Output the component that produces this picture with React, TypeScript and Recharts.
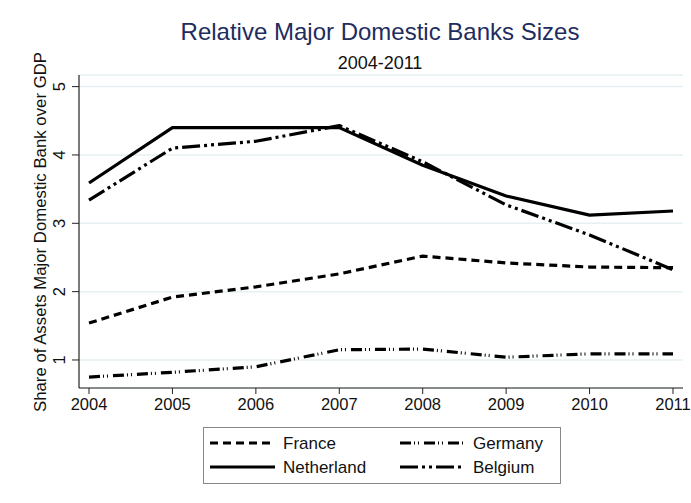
import React from "react";
import { LineChart, Line, XAxis, YAxis, CartesianGrid, Legend } from "recharts";

const years = [2004, 2005, 2006, 2007, 2008, 2009, 2010, 2011];
const france = [1.54, 1.92, 2.07, 2.26, 2.52, 2.42, 2.36, 2.35];
const germany = [0.75, 0.82, 0.9, 1.15, 1.16, 1.04, 1.09, 1.09];
const netherland = [3.59, 4.4, 4.4, 4.4, 3.85, 3.4, 3.12, 3.18];
const belgium = [3.34, 4.1, 4.2, 4.43, 3.9, 3.27, 2.83, 2.32];
const yTicks = [1, 2, 3, 4, 5];

const series = [
  { key: "france", name: "France", values: france, dash: "8 5" },
  { key: "germany", name: "Germany", values: germany, dash: "11 3 1 3 1 5" },
  { key: "netherland", name: "Netherland", values: netherland, dash: undefined },
  { key: "belgium", name: "Belgium", values: belgium, dash: "18 4 3 4 3 4" },
];

const data = years.map((yr, i) => {
  const row: any = { year: yr };
  series.forEach((s) => (row[s.key] = s.values[i]));
  return row;
});

const FONT = "'Liberation Sans', Arial, Helvetica, sans-serif";

const YTick = (props: any) => {
  const { x, y, payload } = props;
  const bx = x - 1;
  return (
    <text
      x={bx}
      y={y}
      transform={`rotate(-90 ${bx} ${y})`}
      textAnchor="middle"
      fontSize={16.5}
      fontFamily={FONT}
      fill="#111"
    >
      {payload.value}
    </text>
  );
};

const XTick = (props: any) => {
  const { x, y, payload } = props;
  return (
    <text x={x} y={y + 14} textAnchor="middle" fontSize={16.5} fontFamily={FONT} fill="#111">
      {payload.value}
    </text>
  );
};

const LegendBox = () => {
  return (
    <svg width={358} height={57} style={{ display: "block" }}>
      <rect x={0.5} y={0.5} width={357} height={56} fill="#fff" stroke="#888" strokeWidth={1} />
      {series.map((s, i) => {
        const col = i % 2;
        const row = Math.floor(i / 2);
        const lx = 7 + col * 190;
        const ly = 16 + row * 24;
        return (
          <g key={s.key}>
            <line x1={lx} y1={ly} x2={lx + 65} y2={ly} stroke="#000" strokeWidth={3} strokeDasharray={s.dash} />
            <text x={lx + 73} y={ly + 6} fontSize={17} fontFamily={FONT} fill="#111">
              {s.name}
            </text>
          </g>
        );
      })}
    </svg>
  );
};

export default function App() {
  return (
    <div style={{ position: "absolute", left: 0, top: 0, width: 691, height: 503, background: "#fff" }}>
      <div
        style={{
          position: "absolute",
          left: 0,
          width: 760,
          top: 18,
          textAlign: "center",
          fontFamily: FONT,
          fontSize: 24,
          color: "#1e2c5e",
        }}
      >
        Relative Major Domestic Banks Sizes
      </div>
      <div
        style={{
          position: "absolute",
          left: 0,
          width: 760,
          top: 53,
          textAlign: "center",
          fontFamily: FONT,
          fontSize: 18,
          color: "#111",
        }}
      >
        2004-2011
      </div>
      <div
        style={{
          position: "absolute",
          left: 41,
          top: 232,
          transform: "translate(-50%, -50%) rotate(-90deg)",
          whiteSpace: "nowrap",
          fontFamily: FONT,
          fontSize: 16.8,
          color: "#111",
        }}
      >
        Share of Assets Major Domestic Bank over GDP
      </div>
      <div style={{ position: "absolute", left: 0, top: 0 }}>
        <LineChart
          width={691}
          height={503}
          data={data}
          margin={{ top: 75, right: 8, bottom: 18, left: 39 }}
        >
          <CartesianGrid vertical={false} stroke="#e6eff1" strokeWidth={1.5} />
          <XAxis
            dataKey="year"
            type="number"
            domain={[2003.88, 2011.12]}
            ticks={years}
            height={40}
            tickSize={6}
            tick={<XTick />}
            axisLine={{ stroke: "#222", strokeWidth: 1.2 }}
            tickLine={{ stroke: "#222" }}
            allowDataOverflow
          />
          <YAxis
            type="number"
            domain={[0.59, 5.17]}
            ticks={yTicks}
            width={40}
            tickSize={7}
            tickMargin={6}
            tick={<YTick />}
            axisLine={{ stroke: "#222", strokeWidth: 1.2 }}
            tickLine={{ stroke: "#222" }}
            allowDataOverflow
          />
          {series.map((s) => (
            <Line
              key={s.key}
              dataKey={s.key}
              name={s.name}
              stroke="#000"
              strokeWidth={3.2}
              strokeDasharray={s.dash}
              dot={false}
              activeDot={false}
              isAnimationActive={false}
              strokeLinejoin="round"
            />
          ))}
          <Legend
            content={<LegendBox />}
            wrapperStyle={{ position: "absolute", left: 203, top: 427, width: 358, height: 57 }}
          />
        </LineChart>
      </div>
    </div>
  );
}
